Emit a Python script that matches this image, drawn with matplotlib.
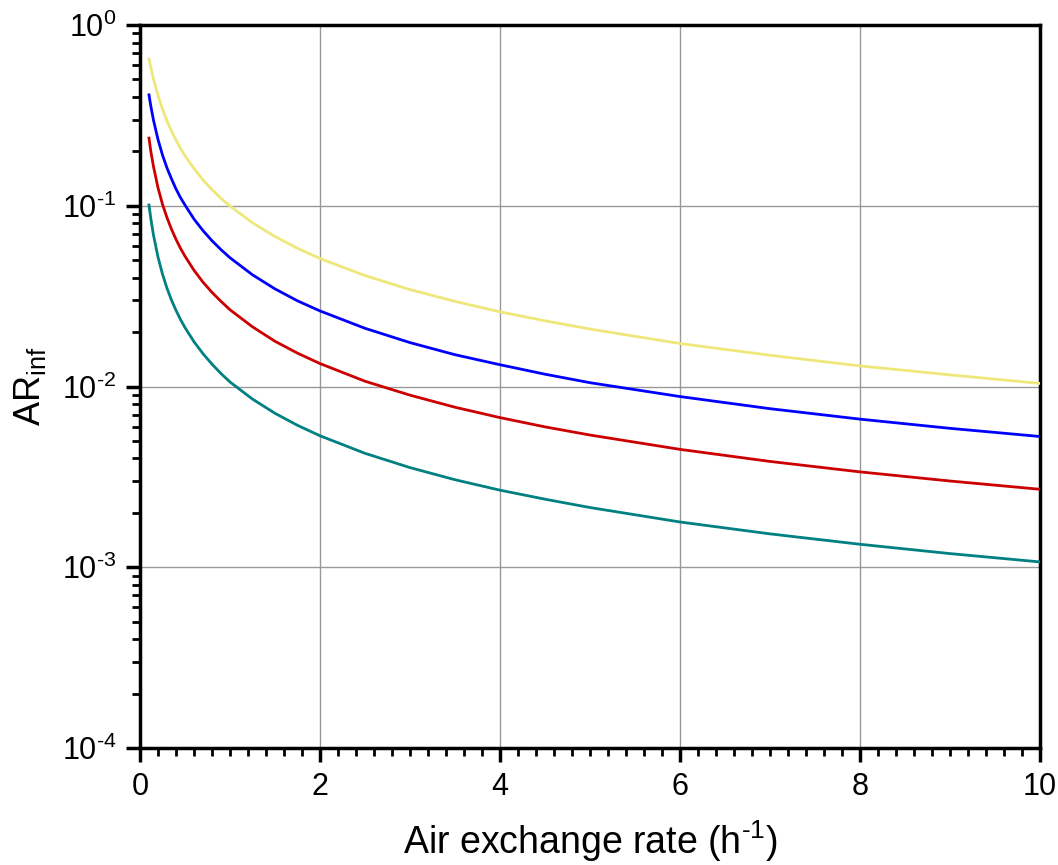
import numpy as np
import matplotlib
matplotlib.use('Agg')
import matplotlib.pyplot as plt
from matplotlib.ticker import FixedLocator, MultipleLocator, LogLocator, NullFormatter

plt.rcParams['font.family'] = ['Liberation Sans', 'DejaVu Sans']
plt.rcParams['mathtext.fontset'] = 'custom'
plt.rcParams['mathtext.rm'] = 'Liberation Sans'
plt.rcParams['mathtext.it'] = 'Liberation Sans'
plt.rcParams['mathtext.default'] = 'regular'

# values
x = [0.1, 0.12, 0.15, 0.2, 0.25, 0.3, 0.35, 0.4, 0.45, 0.5, 0.6, 0.7, 0.8, 0.9, 1.0,
     1.25, 1.5, 1.75, 2, 2.5, 3, 3.5, 4, 4.5, 5, 6, 7, 8, 9, 10]
yellow = [0.65, 0.583, 0.503, 0.408, 0.343, 0.295, 0.259, 0.231, 0.208, 0.189, 0.161, 0.139,
          0.123, 0.110, 0.0997, 0.0806, 0.0676, 0.0582, 0.0511, 0.0411, 0.0344, 0.0296,
          0.0259, 0.0231, 0.0208, 0.0173, 0.0149, 0.0130, 0.0116, 0.0104]
blue = [0.411, 0.357, 0.298, 0.233, 0.191, 0.162, 0.141, 0.124, 0.111, 0.101, 0.0845, 0.0729,
        0.0641, 0.0572, 0.0516, 0.0415, 0.0347, 0.0298, 0.0262, 0.0210, 0.0175, 0.0150,
        0.0132, 0.0117, 0.0105, 0.0088, 0.00754, 0.0066, 0.00587, 0.00529]
red = [0.237, 0.201, 0.165, 0.126, 0.102, 0.0861, 0.0742, 0.0653, 0.0582, 0.0526, 0.044, 0.0378,
       0.0332, 0.0296, 0.0266, 0.0214, 0.0178, 0.0153, 0.0134, 0.0107, 0.00896, 0.00768,
       0.00673, 0.00598, 0.00539, 0.00449, 0.00385, 0.00337, 0.0030, 0.0027]
teal = [0.101, 0.0853, 0.0689, 0.0521, 0.0419, 0.035, 0.0301, 0.0264, 0.0235, 0.0212, 0.0177,
        0.0152, 0.0133, 0.0118, 0.0106, 0.00852, 0.00711, 0.0061, 0.00534, 0.00427, 0.00356,
        0.00305, 0.00267, 0.00238, 0.00214, 0.00178, 0.00153, 0.00134, 0.00119, 0.00107]

series = [(yellow, '#EEE77A'), (blue, '#0000FF'), (red, '#CC0000'), (teal, '#008080')]

yticks = [1e-4, 1e-3, 1e-2, 1e-1, 1]
HY = '\u2010'  # hyphen, like the original superscripts
ylabels = ['10$^{%s4}$' % HY, '10$^{%s3}$' % HY, '10$^{%s2}$' % HY, '10$^{%s1}$' % HY, '10$^{0}$']

fig = plt.figure(figsize=(10.58, 8.65), dpi=100)
ax = fig.add_axes([0.1323, 0.1353, 0.8507, 0.8357])

for vals, c in series:
    ax.plot(x, vals, color=c, lw=2, zorder=3)

ax.set_yscale('log')
ax.set_xlim(0, 10)
ax.set_ylim(1e-4, 1)

ax.xaxis.set_major_locator(MultipleLocator(2))
ax.xaxis.set_minor_locator(MultipleLocator(0.2))
ax.yaxis.set_major_locator(FixedLocator(yticks))
ax.set_yticklabels(ylabels)
ax.yaxis.set_minor_locator(LogLocator(base=10, subs=np.arange(2, 10)))
ax.yaxis.set_minor_formatter(NullFormatter())

ax.grid(True, which='major', color='#999999', lw=1, zorder=1)

for s in ax.spines.values():
    s.set_linewidth(2.5)
ax.tick_params(which='major', direction='out', length=10, width=2.5, labelsize=22, pad=7)
ax.tick_params(which='minor', direction='out', length=6, width=2)

ax.set_xlabel('Air exchange rate (h$^{%s1}$)' % HY, fontsize=27, labelpad=12)
ax.set_ylabel('AR$_{inf}$', fontsize=26, labelpad=10)

fig.savefig('out.png', dpi=100)
